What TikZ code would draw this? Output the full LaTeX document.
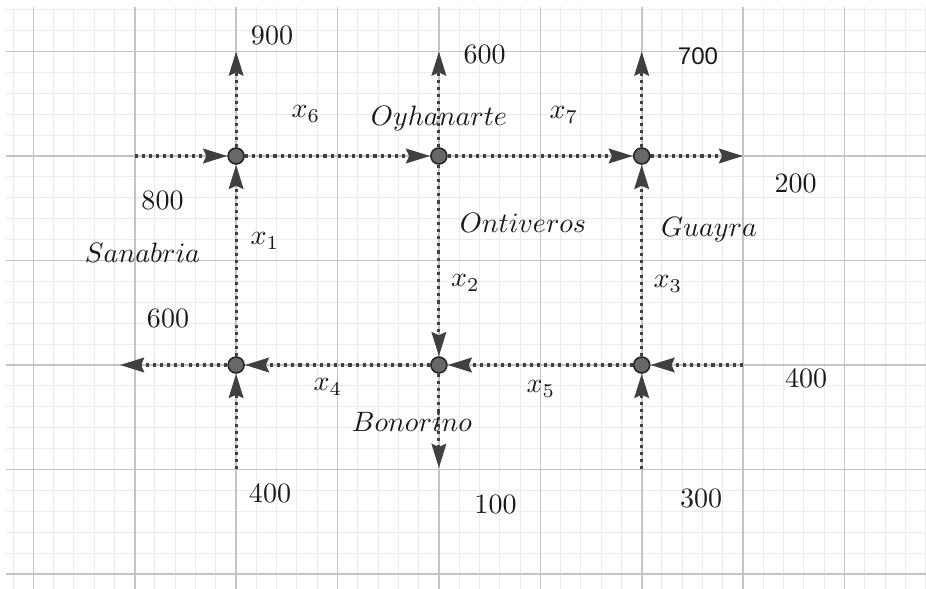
\documentclass[tikz,border=0pt]{standalone}
\usepackage{fontspec}
\newfontfamily\arialfont{Liberation Sans}
\usetikzlibrary{arrows.meta}
\pgfdeclarelayer{bg}
\pgfsetlayers{bg,main}
\definecolor{minorc}{HTML}{EBEBEB}
\definecolor{majorc}{HTML}{C4C4C4}
\definecolor{dotc}{HTML}{404040}
\definecolor{ptfill}{HTML}{686868}
\definecolor{ptdraw}{HTML}{262626}
\definecolor{txt}{HTML}{1A1A1A}
\tikzset{
  minorgrid/.style={draw=minorc, line width=0.36pt},
  majorgrid/.style={draw=majorc, line width=0.57pt},
  flow/.style={draw=dotc, line width=1.1pt, dash pattern=on 1.1pt off 1.45pt,
    -{Stealth[length=8.6pt,width=5.2pt,inset=1.1pt,fill=dotc,color=dotc]}},
  ptnode/.style={circle, minimum size=5.7pt, inner sep=0pt, fill=ptfill, draw=ptdraw, line width=0.57pt},
  lbl/.style={anchor=base, inner sep=0pt, text=txt, font=\fontsize{10}{12}\selectfont},
}
\begin{document}
\begin{tikzpicture}[x=0.357pt,y=-0.357pt]
\useasboundingbox (0,0) rectangle (926,589);
% points
\node[ptnode] (A) at (236.1,156) {};
\node[ptnode] (B) at (438.9,156) {};
\node[ptnode] (C) at (641.7,156) {};
\node[ptnode] (D) at (236.1,365) {};
\node[ptnode] (E) at (438.9,365) {};
\node[ptnode] (F) at (641.7,365) {};
% free ends
\coordinate (inA) at (134.7,156);
\coordinate (outC) at (743.1,156);
\coordinate (upA) at (236.1,51.5);
\coordinate (upB) at (438.9,51.5);
\coordinate (upC) at (641.7,51.5);
\coordinate (outD) at (120,365);
\coordinate (inF) at (743.1,365);
\coordinate (inD) at (236.1,469.5);
\coordinate (outE) at (438.9,468);
\coordinate (inF2) at (641.7,469.5);
\begin{pgfonlayer}{bg}
\fill[white] (0,0) rectangle (926,589);
\foreach \k in {-1,...,44}{\draw[minorgrid] ({33.3+\k*20.28},7) -- ({33.3+\k*20.28},589);}
\foreach \k in {0,...,27}{\draw[minorgrid] (6,{574-\k*20.9}) -- (926,{574-\k*20.9});}
\foreach \k in {0,5,...,40}{\draw[majorgrid] ({33.3+\k*20.28},7) -- ({33.3+\k*20.28},589);}
\foreach \k in {0,5,...,25}{\draw[majorgrid] (6,{574-\k*20.9}) -- (926,{574-\k*20.9});}
% flows
\draw[flow] (inA) -- (A);
\draw[flow] (A) -- (B);
\draw[flow] (B) -- (C);
\draw[flow] (C) -- (outC);
\draw[flow] (A) -- (upA);
\draw[flow] (B) -- (upB);
\draw[flow] (C) -- (upC);
\draw[flow] (D) -- (A);
\draw[flow] (B) -- (E);
\draw[flow] (F) -- (C);
\draw[flow] (D) -- (outD);
\draw[flow] (E) -- (D);
\draw[flow] (F) -- (E);
\draw[flow] (inF) -- (F);
\draw[flow] (inD) -- (D);
\draw[flow] (E) -- (outE);
\draw[flow] (inF2) -- (F);
\end{pgfonlayer}
% labels
\node[lbl] (l900) at (272,45) {900};
\node[lbl] (l600t) at (484.5,64) {600};
\node[lbl, font=\fontsize{8.6}{10.3}\arialfont] (l700) at (698,64.5) {700};
\node[lbl] (lx6) at (306,118) {$x_6$};
\node[lbl] (loy) at (439,126) {$Oyhanarte$};
\node[lbl] (lx7) at (564,119) {$x_7$};
\node[lbl] (l800) at (162.5,210) {800};
\node[lbl] (l200) at (795.5,193) {200};
\node[lbl] (lsan) at (142.5,263) {$Sanabria$};
\node[lbl] (lx1) at (265,245) {$x_1$};
\node[lbl] (lont) at (523,233) {$Ontiveros$};
\node[lbl] (lgua) at (709,237) {$Guayra$};
\node[lbl] (lx2) at (465.5,287) {$x_2$};
\node[lbl] (lx3) at (668,288) {$x_3$};
\node[lbl] (l600l) at (168,328) {600};
\node[lbl] (lx4) at (328,391) {$x_4$};
\node[lbl] (lx5) at (541,393) {$x_5$};
\node[lbl] (l400r) at (806,388) {400};
\node[lbl] (lbon) at (412,432) {$Bonorino$};
\node[lbl] (l400b) at (270,503) {400};
\node[lbl] (l100) at (495.5,514) {100};
\node[lbl] (l300) at (701,508) {300};
\end{tikzpicture}
\end{document}
